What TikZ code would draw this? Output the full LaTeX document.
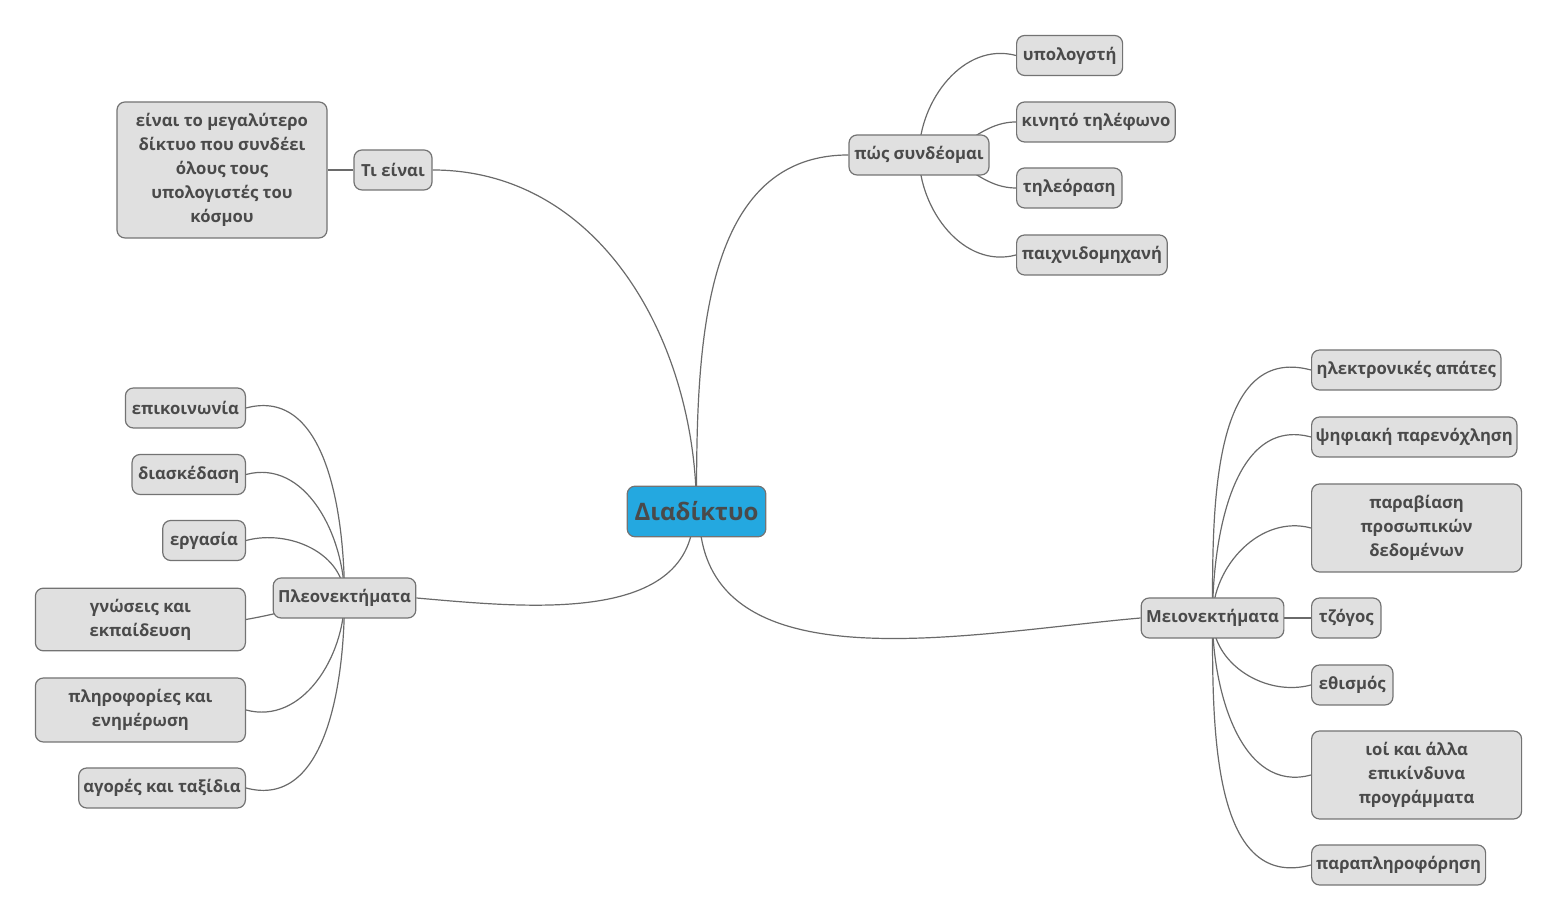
\documentclass[tikz,border=0pt]{standalone}
\usepackage{fontspec}
\setmainfont{Open Sans}
\usetikzlibrary{backgrounds}
\definecolor{topicfill}{HTML}{E0E0E0}
\definecolor{topicline}{HTML}{737373}
\definecolor{topictext}{HTML}{4A4A4A}
\definecolor{rootfill}{HTML}{24A8E0}
\definecolor{branchline}{HTML}{6A6A6A}

\begin{document}
\begin{tikzpicture}[x=0.75pt,y=0.75pt,
    topic/.style={draw=topicline, fill=topicfill, rounded corners=6pt,
      line width=0.9pt, text=topictext, align=center,
      font=\bfseries\fontsize{12.5}{18}\selectfont,
      minimum height=30pt, inner xsep=3pt, inner ysep=3pt},
    root/.style={topic, fill=rootfill,
      font=\bfseries\fontsize{18}{22}\selectfont},
    branch/.style={draw=branchline, line width=0.9pt}]
  \useasboundingbox (0,0) rectangle (1559,923);

  % central topic
  \node[root, minimum width=104pt, minimum height=38pt] (root) at (696.5,411.5) {Διαδίκτυο};

  % what it is
  \node[topic, minimum width=58.5pt] (ti-einai) at (393,753) {Τι είναι};
  \node[topic, minimum width=157.5pt, minimum height=102pt] (ti-einai-def) at (222,753)
    {είναι το μεγαλύτερο\\δίκτυο που συνδέει\\όλους τους\\υπολογιστές του\\κόσμου};

  % how to connect
  \node[topic, minimum width=105pt] (pos) at (919,768) {πώς συνδέομαι};
  \node[topic, anchor=west, minimum width=79.5pt] (ypologisti) at (1016,867.5) {υπολογστή};
  \node[topic, anchor=west, minimum width=119pt] (kinito) at (1016,801) {κινητό τηλέφωνο};
  \node[topic, anchor=west, minimum width=79pt] (tileorasi) at (1016,735) {τηλεόραση};
  \node[topic, anchor=west, minimum width=113pt] (paixnido) at (1016,668) {παιχνιδομηχανή};

  % advantages
  \node[topic, minimum width=107pt] (pleon) at (344.5,325) {Πλεονεκτήματα};
  \node[topic, anchor=east, minimum width=90pt] (epikoinonia) at (246,515) {επικοινωνία};
  \node[topic, anchor=east, minimum width=85pt] (diaskedasi) at (246,448.5) {διασκέδαση};
  \node[topic, anchor=east, minimum width=62pt] (ergasia) at (246,382.5) {εργασία};
  \node[topic, anchor=east, minimum width=157.5pt, minimum height=47pt] (gnoseis) at (246,303.5)
    {γνώσεις και\\εκπαίδευση};
  \node[topic, anchor=east, minimum width=157.5pt, minimum height=48pt] (plirofories) at (246,213)
    {πληροφορίες και\\ενημέρωση};
  \node[topic, anchor=east, minimum width=125pt] (agores) at (246,135) {αγορές και ταξίδια};

  % disadvantages
  \node[topic, minimum width=107pt] (meion) at (1212.5,305) {Μειονεκτήματα};
  \node[topic, anchor=west, minimum width=142pt] (apates) at (1311,553) {ηλεκτρονικές απάτες};
  \node[topic, anchor=west, minimum width=154pt] (parenoxlisi) at (1311,486) {ψηφιακή παρενόχληση};
  \node[topic, anchor=west, minimum width=157.5pt, minimum height=66pt] (paraviasi) at (1311,395)
    {παραβίαση\\προσωπικών\\δεδομένων};
  \node[topic, anchor=west, minimum width=52pt] (tzogos) at (1311,305) {τζόγος};
  \node[topic, anchor=west, minimum width=61pt] (ethismos) at (1311,238) {εθισμός};
  \node[topic, anchor=west, minimum width=157.5pt, minimum height=66pt] (ioi) at (1311,148)
    {ιοί και άλλα\\επικίνδυνα\\προγράμματα};
  \node[topic, anchor=west, minimum width=130.5pt] (parapliroforisi) at (1311,58) {παραπληροφόρηση};

  \begin{scope}[on background layer]
    \draw[branch] (root.center) to[out=90,in=0] (ti-einai.east);
    \draw[branch] (root.center) to[out=90,in=180] (pos.west);
    \draw[branch] ([xshift=-2pt]root.center) to[out=-90,in=-5] (pleon.east);
    \draw[branch] ([xshift=2pt]root.center) to[out=-90,in=185] (meion.west);
    \draw[branch] (ti-einai.west) -- (ti-einai-def.east);
    \draw[branch] (pos.center) to[out=90,in=165] (ypologisti.west);
    \draw[branch] (pos.center) to[out=-10,in=180] (kinito.west);
    \draw[branch] (pos.center) to[out=10,in=180] (tileorasi.west);
    \draw[branch] (pos.center) to[out=-90,in=195] (paixnido.west);
    \foreach \leaf in {epikoinonia,diaskedasi,ergasia}
      \draw[branch] (pleon.center) to[out=90,in=15] (\leaf.east);
    \draw[branch] (pleon.center) to[out=190,in=10] (gnoseis.east);
    \foreach \leaf in {plirofories,agores}
      \draw[branch] (pleon.center) to[out=-90,in=-15] (\leaf.east);
    \foreach \leaf in {apates,parenoxlisi,paraviasi}
      \draw[branch] (meion.center) to[out=90,in=165] (\leaf.west);
    \draw[branch] (meion.center) -- (tzogos.west);
    \foreach \leaf in {ethismos,ioi,parapliroforisi}
      \draw[branch] (meion.center) to[out=-90,in=195] (\leaf.west);
  \end{scope}
\end{tikzpicture}
\end{document}
